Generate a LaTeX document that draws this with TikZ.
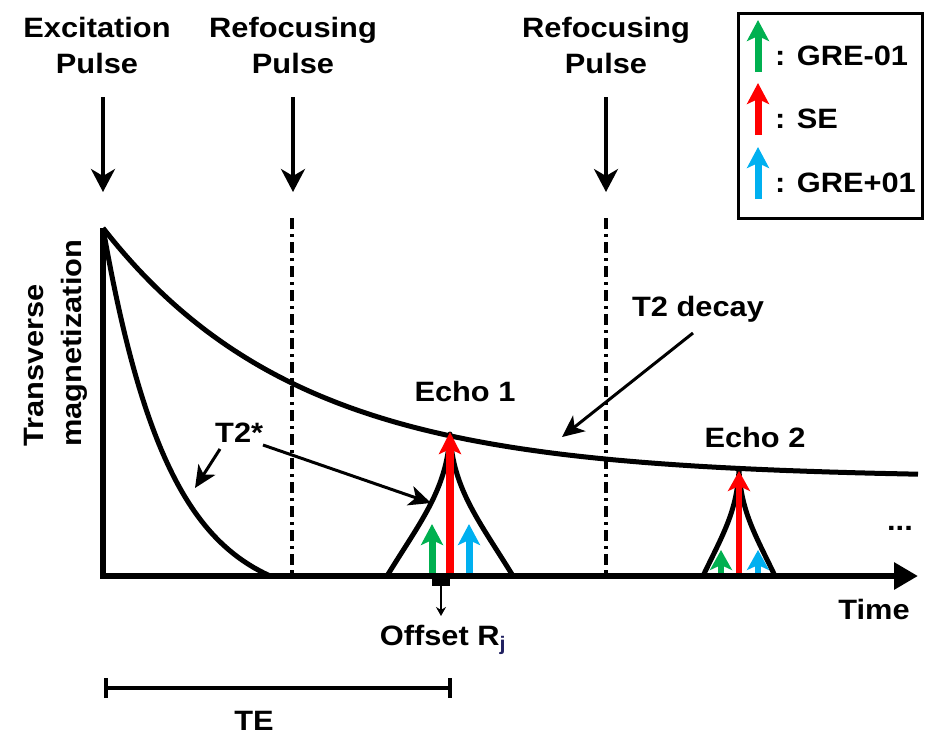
\documentclass[tikz,border=0pt]{standalone}
\usepackage{fontspec}
\setmainfont{Liberation Sans}[FakeStretch=1.1]
\usetikzlibrary{arrows.meta}
\definecolor{gcol}{RGB}{0,176,80}
\definecolor{rcol}{RGB}{255,0,0}
\definecolor{bcol}{RGB}{0,176,240}
\definecolor{jcol}{RGB}{32,32,96}
\begin{document}
\begin{tikzpicture}[x=1pt,y=-1pt,
  txt/.style={font=\fontsize{28}{36}\selectfont\bfseries, inner sep=0pt, align=center},
  curve/.style={line width=5pt, line join=round},
  pulsearrow/.style={line width=3.5pt, -{Stealth[length=23pt,width=24pt,inset=7pt]}},
  ptr/.style={line width=3pt, -{Stealth[length=22pt,width=20pt,inset=6pt]}},
  dashdot/.style={line width=3.5pt, dash pattern=on 11pt off 5pt on 3pt off 5pt},
  bigarrow/.style={line width=8pt, -{Stealth[length=22pt,width=22pt,inset=5pt]}},
  smallarrow/.style={line width=7pt, -{Stealth[length=21pt,width=22pt,inset=5pt]}},
  echoarrow/.style={line width=6pt, -{Stealth[length=20pt,width=22pt,inset=5pt]}},
]
\useasboundingbox (0,0) rectangle (938,740);

% pulse labels and arrows
\node[txt, anchor=north] (exc) at (97,17) {Excitation\\Pulse};
\node[txt, anchor=north] (ref1) at (293,17) {Refocusing\\Pulse};
\node[txt, anchor=north] (ref2) at (606,17) {Refocusing\\Pulse};
\coordinate (excA) at (103,97);  \coordinate (excB) at (103,192);
\coordinate (refA) at (293,97);  \coordinate (refB) at (293,192);
\coordinate (refC) at (606,97);  \coordinate (refD) at (606,192);
\draw[pulsearrow] (excA) -- (excB);
\draw[pulsearrow] (refA) -- (refB);
\draw[pulsearrow] (refC) -- (refD);

% legend
\node[draw, line width=3pt, minimum width=184pt, minimum height=205pt, inner sep=0pt] (legend) at (830,115.5) {};
\coordinate (lg1a) at (758,72);  \coordinate (lg1b) at (758,20);
\coordinate (lg2a) at (758,135); \coordinate (lg2b) at (758,83);
\coordinate (lg3a) at (758,199); \coordinate (lg3b) at (758,147);
\draw[smallarrow, gcol] (lg1a) -- (lg1b);
\draw[smallarrow, rcol] (lg2a) -- (lg2b);
\draw[smallarrow, bcol] (lg3a) -- (lg3b);
\node[txt, anchor=base west] (lgt1) at (775,65) {: GRE-01};
\node[txt, anchor=base west] (lgt2) at (775,128) {: SE};
\node[txt, anchor=base west] (lgt3) at (775,192) {: GRE+01};

% y label
\node[txt, rotate=90, anchor=base west] (ylab1) at (43,447) {Transverse};
\node[txt, rotate=90, anchor=base west] (ylab2) at (81,447) {magnetization};

% dash-dot lines
\coordinate (dd1a) at (292,218); \coordinate (dd1b) at (292,576);
\coordinate (dd2a) at (606,218); \coordinate (dd2b) at (606,576);
\draw[dashdot] (dd1a) -- (dd1b);
\draw[dashdot] (dd2a) -- (dd2b);

% decay curves
\draw[curve] plot[domain=103:918, samples=120, smooth] (\x, {478-250*exp(-(\x-103)/195)});
\draw[curve] plot[domain=103:270, samples=80, smooth] (\x, {606-378*exp(-(\x-103)/66)});

% echoes
\draw[curve] (387,576) .. controls (420,522) and (447,490) .. (450,434)
             .. controls (453,490) and (480,522) .. (513,576);
\draw[curve] (703,576) .. controls (722,536) and (737,512) .. (739,470)
             .. controls (741,512) and (756,536) .. (775,576);

% echo arrows
\coordinate (e1g) at (432,576); \coordinate (e1gt) at (432,524);
\coordinate (e1r) at (450,576); \coordinate (e1rt) at (450,432);
\coordinate (e1b) at (469,576); \coordinate (e1bt) at (469,524);
\draw[smallarrow, gcol] (e1g) -- (e1gt);
\draw[smallarrow, bcol] (e1b) -- (e1bt);
\draw[bigarrow, rcol] (e1r) -- (e1rt);
\coordinate (e2g) at (721,576); \coordinate (e2gt) at (721,550);
\coordinate (e2r) at (739,576); \coordinate (e2rt) at (739,471);
\coordinate (e2b) at (758,576); \coordinate (e2bt) at (758,550);
\draw[echoarrow, gcol] (e2g) -- (e2gt);
\draw[echoarrow, bcol] (e2b) -- (e2bt);
\draw[echoarrow, rcol] (e2r) -- (e2rt);

% axes
\coordinate (ytop) at (103,228);
\coordinate (orig) at (103,576);
\coordinate (xend) at (918,576);
\draw[line width=6pt, line join=miter, -{Triangle[length=24pt,width=26pt]}] (ytop) -- (orig) -- (xend);

% text labels
\node[txt, anchor=base] (echo1) at (465,401) {Echo 1};
\node[txt, anchor=base] (echo2) at (755,447) {Echo 2};
\node[txt, anchor=base] (t2d) at (698,316) {T2 decay};
\node[txt, anchor=base west] (t2s) at (215,442) {T2*};
\node[txt, anchor=base] (time) at (874,619) {Time};
\node[txt, anchor=base] (dots) at (900,530) {...};
\node[txt, anchor=base] (offs) at (443,645) {Offset R\textsubscript{\color{jcol}j}};
\node[txt, anchor=base] (te) at (254,730) {TE};

% pointers
\coordinate (t2dA) at (693,333); \coordinate (t2dB) at (562,437);
\draw[ptr] (t2dA) -- (t2dB);
\coordinate (t2sA) at (220,449); \coordinate (t2sB) at (195,488);
\draw[ptr] (t2sA) -- (t2sB);
\coordinate (t2sC) at (263,445); \coordinate (t2sD) at (431,503);
\draw[ptr] (t2sC) -- (t2sD);

% offset marker
\node[fill=black, minimum width=18pt, minimum height=9pt, inner sep=0pt] (mk) at (441,581) {};
\coordinate (mktip) at (441,616);
\draw[line width=2.5pt, -{Stealth[length=9pt,width=10pt]}] (mk.south) -- (mktip);

% TE bar
\coordinate (teL) at (104,688); \coordinate (teR) at (452,688);
\draw[line width=4pt, {Bar[width=20pt]}-{Bar[width=20pt]}] (teL) -- (teR);
\end{tikzpicture}
\end{document}
